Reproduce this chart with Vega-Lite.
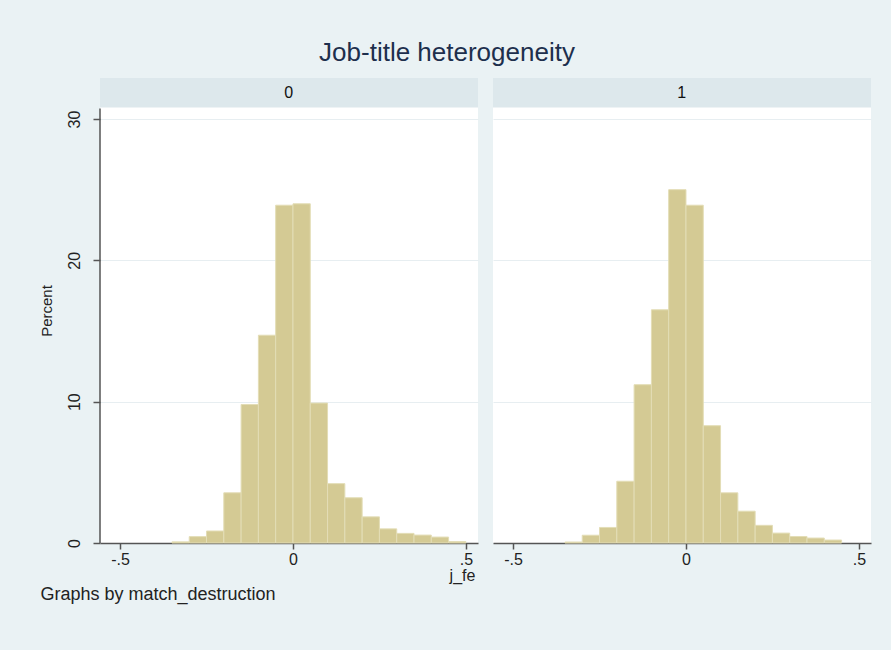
{
  "$schema": "https://vega.github.io/schema/vega-lite/v6.json",
  "background": "#eaf2f4",
  "padding": {"left": 39, "top": 40, "right": 21, "bottom": 48},
  "title": {"text": "Job-title heterogeneity", "fontSize": 26, "font": "Liberation Sans", "fontWeight": "normal", "color": "#1d2f4d", "anchor": "middle", "offset": 12, "dx": -8},
  "datasets": {
    "panel0": [
      {"start": -0.35, "end": -0.30, "pct": 0.08},
      {"start": -0.30, "end": -0.25, "pct": 0.45},
      {"start": -0.25, "end": -0.20, "pct": 0.85},
      {"start": -0.20, "end": -0.15, "pct": 3.55},
      {"start": -0.15, "end": -0.10, "pct": 9.8},
      {"start": -0.10, "end": -0.05, "pct": 14.7},
      {"start": -0.05, "end": 0.00, "pct": 23.9},
      {"start": 0.00, "end": 0.05, "pct": 24.0},
      {"start": 0.05, "end": 0.10, "pct": 9.9},
      {"start": 0.10, "end": 0.15, "pct": 4.2},
      {"start": 0.15, "end": 0.20, "pct": 3.2},
      {"start": 0.20, "end": 0.25, "pct": 1.85},
      {"start": 0.25, "end": 0.30, "pct": 1.0},
      {"start": 0.30, "end": 0.35, "pct": 0.68},
      {"start": 0.35, "end": 0.40, "pct": 0.56},
      {"start": 0.40, "end": 0.45, "pct": 0.42},
      {"start": 0.45, "end": 0.50, "pct": 0.1}
    ],
    "panel1": [
      {"start": -0.35, "end": -0.30, "pct": 0.07},
      {"start": -0.30, "end": -0.25, "pct": 0.55},
      {"start": -0.25, "end": -0.20, "pct": 1.1},
      {"start": -0.20, "end": -0.15, "pct": 4.37},
      {"start": -0.15, "end": -0.10, "pct": 11.2},
      {"start": -0.10, "end": -0.05, "pct": 16.5},
      {"start": -0.05, "end": 0.00, "pct": 25.0},
      {"start": 0.00, "end": 0.05, "pct": 23.9},
      {"start": 0.05, "end": 0.10, "pct": 8.3},
      {"start": 0.10, "end": 0.15, "pct": 3.55},
      {"start": 0.15, "end": 0.20, "pct": 2.25},
      {"start": 0.20, "end": 0.25, "pct": 1.25},
      {"start": 0.25, "end": 0.30, "pct": 0.7},
      {"start": 0.30, "end": 0.35, "pct": 0.46},
      {"start": 0.35, "end": 0.40, "pct": 0.35},
      {"start": 0.40, "end": 0.45, "pct": 0.21}
    ],
    "strip0": [{"panel": "0"}],
    "strip1": [{"panel": "1"}]
  },
  "spacing": 15,
  "bounds": "flush",
  "hconcat": [
    {
      "width": 378,
      "height": 465,
      "layer": [
        {
          "data": {"name": "panel0"},
          "mark": {"type": "bar", "fill": "#d4ca94", "stroke": "#e3ddb6", "strokeWidth": 1},
          "encoding": {
            "x": {"field": "start", "type": "quantitative",
                  "scale": {"domain": [-0.558, 0.535], "nice": false, "zero": false},
                  "axis": {"values": [-0.5, 0, 0.5], "labelExpr": "datum.value == 0 ? '0' : (datum.value < 0 ? '-.5' : '.5')",
                           "grid": false, "title": "Graphs by match_destruction", "titleAlign": "left", "titleAnchor": "start",
                           "titleX": -60, "titleY": 42, "titleFontSize": 18, "labelFontSize": 16, "tickSize": 6, "labelPadding": 2}},
            "x2": {"field": "end"},
            "y": {"field": "pct", "type": "quantitative",
                  "scale": {"domain": [0, 32.9], "nice": false},
                  "axis": {"values": [0, 10, 20, 30], "title": "Percent", "labelAngle": -90, "labelAlign": "center",
                           "labelBaseline": "bottom", "labelPadding": 11, "tickSize": 7, "domain": false, "grid": true,
                           "titleFontSize": 15, "titlePadding": 12, "labelFontSize": 16}},
            "y2": {"datum": 0}
          }
        },
        {
          "data": {"name": "strip0"},
          "mark": {"type": "rect", "fill": "#dde8ec"},
          "encoding": {"x": {"datum": -0.558}, "x2": {"datum": 0.535}, "y": {"datum": 30.82}, "y2": {"datum": 32.9}}
        },
        {
          "data": {"name": "strip0"},
          "mark": {"type": "text", "font": "Liberation Sans", "fontSize": 16, "color": "#111", "baseline": "middle"},
          "encoding": {"text": {"field": "panel"}, "x": {"datum": -0.012}, "y": {"datum": 31.86}}
        },
        {
          "data": {"name": "strip0"},
          "mark": {"type": "rule", "color": "#555555", "strokeWidth": 1.5},
          "encoding": {"x": {"datum": -0.558}, "y": {"datum": 0}, "y2": {"datum": 30.75}}
        }
      ]
    },
    {
      "width": 378,
      "height": 465,
      "layer": [
        {
          "data": {"name": "panel1"},
          "mark": {"type": "bar", "fill": "#d4ca94", "stroke": "#e3ddb6", "strokeWidth": 1},
          "encoding": {
            "x": {"field": "start", "type": "quantitative",
                  "scale": {"domain": [-0.558, 0.535], "nice": false, "zero": false},
                  "axis": {"values": [-0.5, 0, 0.5], "labelExpr": "datum.value == 0 ? '0' : (datum.value < 0 ? '-.5' : '.5')",
                           "grid": false, "title": "j_fe", "titleAlign": "center", "titleX": -31, "titleY": 24,
                           "titleFontSize": 16, "labelFontSize": 16, "tickSize": 6, "labelPadding": 2}},
            "x2": {"field": "end"},
            "y": {"field": "pct", "type": "quantitative",
                  "scale": {"domain": [0, 32.9], "nice": false},
                  "axis": {"values": [0, 10, 20, 30], "title": null, "labels": false, "ticks": false, "domain": false, "grid": true}},
            "y2": {"datum": 0}
          }
        },
        {
          "data": {"name": "strip1"},
          "mark": {"type": "rect", "fill": "#dde8ec"},
          "encoding": {"x": {"datum": -0.558}, "x2": {"datum": 0.535}, "y": {"datum": 30.82}, "y2": {"datum": 32.9}}
        },
        {
          "data": {"name": "strip1"},
          "mark": {"type": "text", "font": "Liberation Sans", "fontSize": 16, "color": "#111", "baseline": "middle"},
          "encoding": {"text": {"field": "panel"}, "x": {"datum": -0.012}, "y": {"datum": 31.86}}
        }
      ]
    }
  ],
  "config": {
    "view": {"fill": "white", "stroke": null},
    "axis": {
      "labelFont": "Liberation Sans", "titleFont": "Liberation Sans", "labelColor": "#222222", "titleColor": "#222222",
      "titleFontWeight": "normal", "tickColor": "#555555", "domainColor": "#555555", "domainWidth": 1.5, "tickWidth": 1.5,
      "gridColor": "#e7eef1", "gridWidth": 1
    }
  }
}
